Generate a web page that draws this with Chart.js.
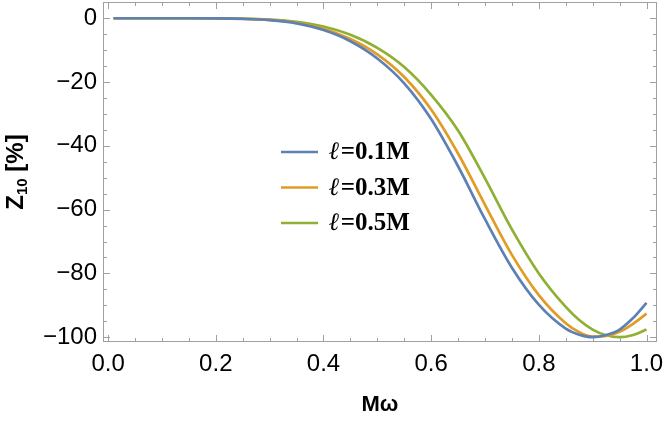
<!DOCTYPE html>
<html><head><meta charset="utf-8">
<script src="https://cdn.jsdelivr.net/npm/chart.js@4/dist/chart.umd.min.js"></script>
<style>html,body{margin:0;padding:0;background:#fff}#wrap{width:664px;height:421px;position:relative}</style>
</head><body><div id="wrap"><canvas id="c" width="664" height="421"></canvas></div>
<script>
// ---- data ----
const omega = [0.01, 0.05, 0.10, 0.15, 0.20, 0.25, 0.30, 0.35, 0.40, 0.45, 0.50, 0.55, 0.60, 0.65, 0.70, 0.75, 0.80, 0.85, 0.875, 0.90, 0.925, 0.95, 0.975, 1.00];
const zEll01 = [0, 0, 0, 0, -0.05, -0.2, -0.6, -1.6, -3.7, -7.2, -12.6, -20.4, -31.6, -46.4, -63.0, -78.2, -89.8, -97.3, -99.2, -100, -99.3, -97.6, -94.0, -89.2];
const zEll03 = [0, 0, 0, 0, -0.04, -0.15, -0.5, -1.4, -3.3, -6.5, -11.3, -18.4, -28.6, -42.4, -58.5, -74.2, -86.8, -95.6, -98.4, -99.8, -99.6, -98.3, -95.8, -92.6];
const zEll05 = [0, 0, 0, 0, -0.03, -0.1, -0.4, -1.1, -2.6, -5.2, -9.3, -15.3, -24.0, -35.2, -50.2, -66.2, -80.0, -90.5, -94.6, -97.6, -99.4, -100, -99.3, -97.6];
const seriesSymbol = '\u2113';
const seriesLabels = ['\u2113=0.1M', '\u2113=0.3M', '\u2113=0.5M'];
const xTickValues = [0, 0.2, 0.4, 0.6, 0.8, 1.0];
const yTickValues = [-100, -80, -60, -40, -20, 0];
const xTitle = 'M\u03C9';
const yTitleMain = 'Z', yTitleSub = '10', yTitleRest = ' [%]';

// ---- styles ----
const colors = ['#5E81B5', '#E19C24', '#8FB032'];
const frameColor = '#a0a0a0';
const tickFont = '"Liberation Sans", Arial, sans-serif';
const serifFont = '"Liberation Serif", "Times New Roman", serif';

const seriesValues = [zEll01, zEll03, zEll05];
const datasets = seriesValues.map((vals, i) => ({
  label: seriesLabels[i],
  data: omega.map((x, j) => ({x: x, y: vals[j]})),
  borderColor: colors[i],
  backgroundColor: colors[i],
  borderWidth: 2.7,
  pointRadius: 0,
  fill: false,
  cubicInterpolationMode: 'monotone'
}));

function zeroPad(s) { s.paddingTop = 0; s.paddingBottom = 0; s.paddingLeft = 0; s.paddingRight = 0; }

const framePlugin = {
  id: 'frame',
  beforeDatasetsDraw(chart) {
    const {ctx, chartArea: a} = chart;
    const xs = chart.scales.x, ys = chart.scales.y;
    ctx.save();
    ctx.strokeStyle = frameColor;
    ctx.lineWidth = 1;
    ctx.strokeRect(a.left + 0.5, a.top + 0.5, a.right - a.left - 1, a.bottom - a.top - 1);
    ctx.beginPath();
    for (let k = 0; k <= 20; k++) {
      const v = k * 0.05;
      const px = Math.round(xs.getPixelForValue(v)) + 0.5;
      const len = (k % 4 === 0) ? 7 : 4;
      ctx.moveTo(px, a.bottom); ctx.lineTo(px, a.bottom - len);
      ctx.moveTo(px, a.top); ctx.lineTo(px, a.top + len);
    }
    for (let k = 0; k <= 20; k++) {
      const v = -k * 5;
      const py = Math.round(ys.getPixelForValue(v)) + 0.5;
      const len = (k % 4 === 0) ? 7 : 4;
      ctx.moveTo(a.left, py); ctx.lineTo(a.left + len, py);
      ctx.moveTo(a.right, py); ctx.lineTo(a.right - len, py);
    }
    ctx.stroke();
    ctx.restore();
  },
  afterDraw(chart) {
    const {ctx, chartArea: a} = chart;
    ctx.save();
    // y title with subscript
    const cy = (a.top + a.bottom) / 2;
    ctx.translate(23, cy);
    ctx.rotate(-Math.PI / 2);
    const fMain = 'bold 24px ' + tickFont, fSub = 'bold 15px ' + tickFont;
    ctx.font = fMain; const w1 = ctx.measureText(yTitleMain).width;
    ctx.font = fSub; const w2 = ctx.measureText(yTitleSub).width;
    ctx.font = fMain; const w3 = ctx.measureText(yTitleRest).width;
    let x0 = -(w1 + w2 + w3) / 2;
    ctx.fillStyle = '#000';
    ctx.textBaseline = 'alphabetic';
    ctx.textAlign = 'left';
    ctx.font = fMain; ctx.fillText(yTitleMain, x0, 0);
    ctx.font = fSub; ctx.fillText(yTitleSub, x0 + w1, 4);
    ctx.font = fMain; ctx.fillText(yTitleRest, x0 + w1 + w2, 0);
    ctx.restore();

    // legend
    ctx.save();
    const lx0 = 281, lx1 = 318, tx = 329, ly0 = 152, gap = 35.5;
    const fSym = 'italic bold 25px ' + serifFont, fTxt = 'bold 25px ' + serifFont;
    ctx.textBaseline = 'middle';
    ctx.textAlign = 'left';
    chart.data.datasets.forEach((ds, i) => {
      const y = ly0 + i * gap;
      ctx.strokeStyle = ds.borderColor;
      ctx.lineWidth = 2.7;
      ctx.beginPath(); ctx.moveTo(lx0, y); ctx.lineTo(lx1, y); ctx.stroke();
      ctx.fillStyle = '#000';
      const rest = ds.label.slice(seriesSymbol.length);
      ctx.font = fSym;
      ctx.fillText(seriesSymbol, tx, y + 1);
      const ws = ctx.measureText(seriesSymbol).width;
      ctx.font = fTxt;
      ctx.fillText(rest, tx + ws + 1, y + 1);
    });
    ctx.restore();
  }
};

new Chart(document.getElementById('c'), {
  type: 'line',
  data: {datasets: datasets},
  options: {
    responsive: false,
    animation: false,
    devicePixelRatio: 1,
    layout: {padding: {left: 0, right: 7, top: 2, bottom: 0}},
    plugins: {legend: {display: false}, tooltip: {enabled: false}},
    scales: {
      x: {
        type: 'linear', min: -0.0095, max: 1.0195,
        grid: {display: false, drawTicks: false},
        border: {display: false},
        ticks: {color: '#000', font: {family: tickFont, size: 24}, padding: 8,
          autoSkip: false, maxRotation: 0, callback: v => v.toFixed(1)},
        afterBuildTicks: s => { s.ticks = xTickValues.map(v => ({value: v})); },
        afterFit: s => { s.height = 79; zeroPad(s); },
        title: {display: true, text: xTitle, color: '#000',
          font: {family: tickFont, size: 22, weight: 'bold'}, padding: {top: 0, bottom: 3}}
      },
      y: {
        type: 'linear', min: -101.5, max: 5.1,
        grid: {display: false, drawTicks: false},
        border: {display: false},
        ticks: {color: '#000', font: {family: tickFont, size: 24}, padding: 6, autoSkip: false,
          callback: v => (v < 0 ? '\u2212' + Math.abs(v) : String(v))},
        afterBuildTicks: s => { s.ticks = yTickValues.map(v => ({value: v})); },
        afterFit: s => { s.width = 103; zeroPad(s); }
      }
    }
  },
  plugins: [framePlugin]
});
</script>
</body></html>
